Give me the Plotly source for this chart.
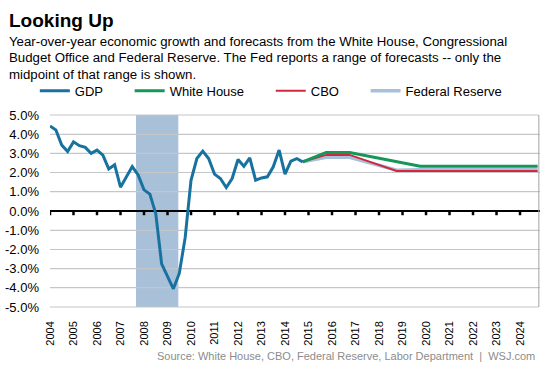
import plotly.graph_objects as go

# ---------------- data ----------------
gdp_start_year = 2004
gdp_values = [
    4.43, 4.22, 3.43, 3.10,
    3.60, 3.40, 3.31, 3.00,
    3.17, 2.91, 2.19, 2.41,
    1.24, 1.76, 2.31, 1.88,
    1.10, 0.88, -0.14, -2.75,
    -3.38, -4.05, -3.25, -1.40,
    1.60, 2.73, 3.12, 2.73,
    1.92, 1.69, 1.22, 1.69,
    2.68, 2.33, 2.77, 1.60,
    1.72, 1.78, 2.30, 3.17,
    1.92, 2.60, 2.73, 2.56,
]
gdp_x = [gdp_start_year + i / 4 for i in range(len(gdp_values))]

forecast_x = [2014.75, 2015.75, 2016.75, 2017.75, 2018.75, 2019.75,
              2020.75, 2021.75, 2022.75, 2023.75, 2024.75]
white_house = [2.56, 3.05, 3.05, 2.81, 2.57, 2.33, 2.33, 2.33, 2.33, 2.33, 2.33]
cbo = [2.56, 2.92, 2.92, 2.50, 2.08, 2.08, 2.08, 2.08, 2.08, 2.08, 2.08]
fed = [2.56, 2.80, 2.80, 2.45, 2.12, 2.15, 2.15, 2.15, 2.15, 2.15, 2.15]

recession = (2007.66, 2009.46)

year_ticks = list(range(2004, 2025))
year_labels = [str(y) for y in year_ticks]
pct_ticks = [-5, -4, -3, -2, -1, 0, 1, 2, 3, 4, 5]
pct_labels = ["-5.0%", "-4.0%", "-3.0%", "-2.0%", "-1.0%", "0.0%",
              "1.0%", "2.0%", "3.0%", "4.0%", "5.0%"]

x_start, x_end = 2004, 2024.8          # visible data span of the x axis
x_range = [x_start, x_end + 0.05]
y_range = [pct_ticks[0] - 0.05, pct_ticks[-1] + 0.05]

# ---------------- styling ----------------
FONT = "Liberation Sans, Arial, sans-serif"
C_GDP = "#17729f"
C_WH = "#15975a"
C_CBO = "#d0283c"
C_FED = "#a9c0da"
C_SHADE = "#a9c0d9"
C_GRID = "#c4c6c9"
C_FRAME = "#a2a5a8"
PAD = "\u00a0" * 6
TICK_DEPTH = 0.22   # length of the small tick marks under the zero line, in axis units
GRID_HALF = 0.028   # half thickness of a gridline band, in axis units (about 1 px)
FRAME_HALF = 0.022  # half width of the right frame band, in axis units (about 1 px)

fig = go.Figure()

fig.add_trace(go.Scatter(x=forecast_x, y=fed, mode="lines", name="Federal Reserve",
                         line=dict(color=C_FED, width=3.5), legendrank=4))
fig.add_trace(go.Scatter(x=forecast_x, y=cbo, mode="lines", name="CBO" + PAD,
                         line=dict(color=C_CBO, width=2), legendrank=3))
fig.add_trace(go.Scatter(x=forecast_x, y=white_house, mode="lines", name="White House" + PAD,
                         line=dict(color=C_WH, width=3), legendrank=2))
fig.add_trace(go.Scatter(x=gdp_x, y=gdp_values, mode="lines", name="GDP" + PAD,
                         line=dict(color=C_GDP, width=3), legendrank=1))
# small year ticks hanging from the zero line
fig.add_trace(go.Scatter(x=year_ticks, y=[0] * len(year_ticks), mode="markers",
                         marker=dict(size=2, color="black"),
                         error_y=dict(type="data", symmetric=False,
                                      array=[0] * len(year_ticks),
                                      arrayminus=[TICK_DEPTH] * len(year_ticks),
                                      width=0, thickness=2.5, color="black", visible=True),
                         showlegend=False, hoverinfo="skip"))

# recession band
fig.add_shape(type="rect", xref="x", yref="y", x0=recession[0], x1=recession[1],
              y0=pct_ticks[0], y1=pct_ticks[-1], fillcolor=C_SHADE,
              line=dict(width=0), layer="below")
# gridlines drawn as thin filled bands at each tick (above the recession band)
for v in pct_ticks:
    if v == 0:
        continue
    fig.add_shape(type="rect", xref="x", yref="y", x0=x_start, x1=x_end,
                  y0=v - GRID_HALF, y1=v + GRID_HALF, fillcolor=C_GRID,
                  line=dict(width=0), layer="below")
# right frame edge as a thin filled band
fig.add_shape(type="rect", xref="x", yref="y", x0=x_end - FRAME_HALF, x1=x_end + FRAME_HALF,
              y0=pct_ticks[0], y1=pct_ticks[-1], fillcolor=C_FRAME,
              line=dict(width=0), layer="above")

fig.update_layout(
    width=553, height=369,
    margin=dict(l=50, r=13, t=114, b=61, autoexpand=False),
    paper_bgcolor="white", plot_bgcolor="white",
    font=dict(family=FONT, color="black"),
    showlegend=True,
    legend=dict(orientation="h", x=-0.031, xanchor="left", y=1.12, yanchor="middle",
                font=dict(size=13, family=FONT, color="black"),
                bgcolor="rgba(0,0,0,0)", itemwidth=30, traceorder="normal"),
    xaxis=dict(range=x_range, tickvals=year_ticks, ticktext=year_labels,
               tickangle=-90, showgrid=False, zeroline=False, showline=False,
               ticks="", ticklabelstandoff=10,
               tickfont=dict(size=11, family=FONT, color="black")),
    yaxis=dict(range=y_range, tickvals=pct_ticks, ticktext=pct_labels,
               showgrid=True, gridcolor=C_GRID, gridwidth=1,
               zeroline=True, zerolinecolor="black", zerolinewidth=2,
               showline=False, ticks="", ticklabelstandoff=10,
               tickfont=dict(size=13, family=FONT, color="black")),
)

def px_x(px):
    return (px - 50) / 490

def px_y(py):
    return (308 - py) / 194

fig.add_annotation(text="<b>Looking Up</b>", xref="paper", yref="paper",
                   x=px_x(7), y=px_y(21), xanchor="left", yanchor="middle",
                   showarrow=False, font=dict(size=19, family=FONT, color="black"))
subtitle_lines = [
    "Year-over-year economic growth and forecasts from the White House, Congressional",
    "Budget Office and Federal Reserve. The Fed reports a range of forecasts -- only the",
    "midpoint of that range is shown.",
]
for line, cy in zip(subtitle_lines, [41.6, 57.9, 74.5]):
    fig.add_annotation(text=line, xref="paper", yref="paper",
                       x=px_x(7), y=px_y(cy), xanchor="left", yanchor="middle",
                       showarrow=False, font=dict(size=13.25, family=FONT, color="black"))
fig.add_annotation(text="Source: White House, CBO, Federal Reserve, Labor Department \u00a0|\u00a0 WSJ.com",
                   xref="paper", yref="paper", x=px_x(537), y=px_y(355.5),
                   xanchor="right", yanchor="middle", showarrow=False,
                   font=dict(size=11, family=FONT, color="#8c8c8c"))

fig.write_html("out.html", config={"displayModeBar": False},
               post_script="document.body.style.margin='0';")
